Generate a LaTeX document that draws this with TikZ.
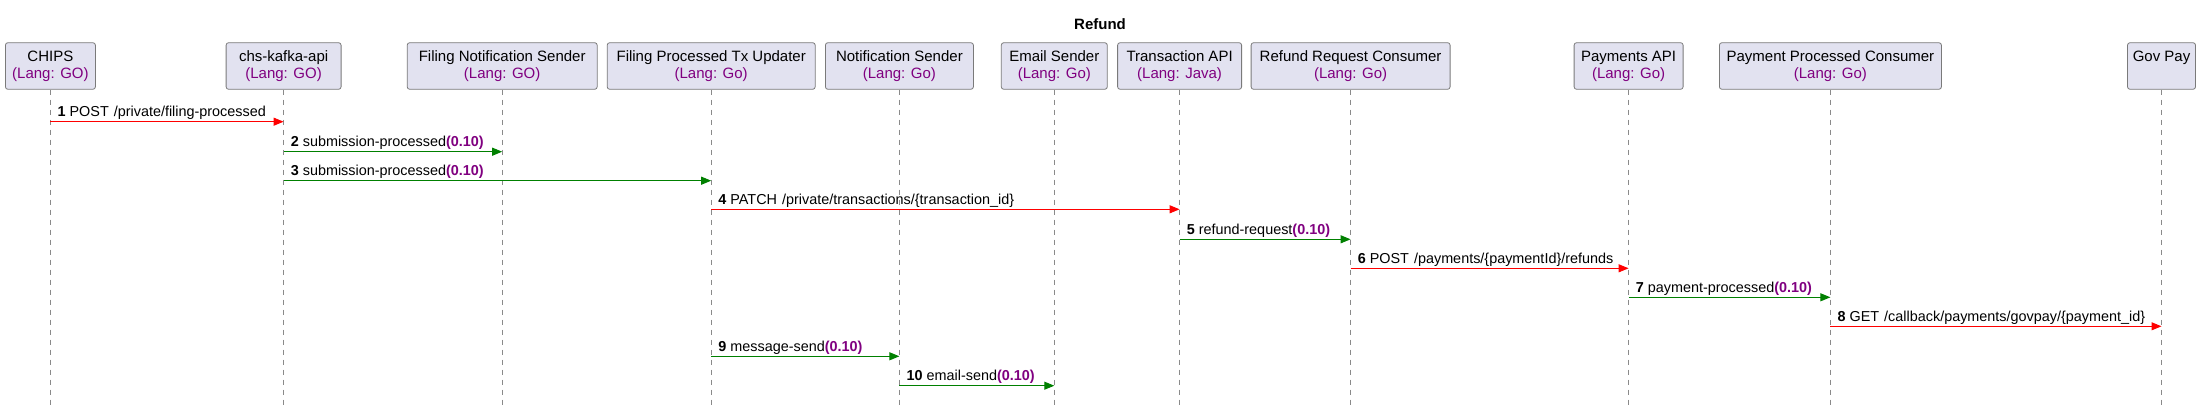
\documentclass[tikz,border=0pt]{standalone}
\usepackage{fontspec}
\setmainfont{Liberation Sans}
\usetikzlibrary{arrows.meta}
\definecolor{boxfill}{HTML}{E2E2F0}
\definecolor{boxline}{HTML}{7A7A7A}
\definecolor{langcol}{HTML}{800080}
\definecolor{msgred}{HTML}{FF0000}
\definecolor{msggreen}{HTML}{008000}
\definecolor{lifegray}{HTML}{8A8A8A}
\newcommand{\langof}[1]{\textcolor{langcol}{(Lang: #1)}}
\newcommand{\ver}{\textcolor{langcol}{\bfseries(0.10)}}
\begin{document}
\begin{tikzpicture}[x=1pt,y=-1pt,
  part/.style={draw=boxline, line width=0.8pt, fill=boxfill, rounded corners=2.5pt,
    minimum height=46.6pt, inner sep=0pt, align=center,
    font=\fontsize{15}{17}\selectfont},
  lifeline/.style={draw=lifegray, line width=0.8pt, dash pattern=on 5pt off 5pt},
  httpmsg/.style={draw=msgred, line width=1pt, -{Triangle[length=10pt,width=8pt]}},
  kafkamsg/.style={draw=msggreen, line width=1pt, -{Triangle[length=10pt,width=8pt]}},
  lbl/.style={anchor=base west, inner sep=0pt, xshift=7pt, font=\fontsize{14.4}{17}\selectfont}]
\useasboundingbox (0,0) rectangle (2200,409);
\node[font=\bfseries\fontsize{15}{17}\selectfont] (title) at (1100,24) {Refund};

\node[part, minimum width=90pt]  (chips) at (50.4,66)   {CHIPS\\\langof{GO}};
\node[part, minimum width=115pt] (kafka) at (283.6,66)  {chs-kafka-api\\\langof{GO}};
\node[part, minimum width=190pt] (fns)   at (502.2,66)  {Filing Notification Sender\\\langof{GO}};
\node[part, minimum width=208pt] (fptu)  at (711.2,66)  {Filing Processed Tx Updater\\\langof{Go}};
\node[part, minimum width=148pt] (ns)    at (899.4,66)  {Notification Sender\\\langof{Go}};
\node[part, minimum width=106pt] (es)    at (1054.3,66) {Email Sender\\\langof{Go}};
\node[part, minimum width=124pt] (ta)    at (1179.6,66) {Transaction API\\\langof{Java}};
\node[part, minimum width=199pt] (rrc)   at (1350.6,66) {Refund Request Consumer\\\langof{Go}};
\node[part, minimum width=109pt] (pa)    at (1628.6,66) {Payments API\\\langof{Go}};
\node[part, minimum width=222pt] (ppc)   at (1830.4,66) {Payment Processed Consumer\\\langof{Go}};
\node[part, minimum width=68pt]  (gov)   at (2161.5,66) {Gov Pay\\\vphantom{(Lg}};

\foreach \p in {chips,kafka,fns,fptu,ns,es,ta,rrc,pa,ppc,gov}
  \draw[lifeline] (\p.south) -- (\p.south |- 0,409);

% 1
\draw[httpmsg] (chips.center |- 0,121.7) -- (kafka.center |- 0,121.7);
\path (chips.center |- 0,116.7) node[lbl] (l1) {\textbf{1} POST\hspace{1pt} /private/filing-processed};
% 2
\draw[kafkamsg] (kafka.center |- 0,151.7) -- (fns.center |- 0,151.7);
\path (kafka.center |- 0,146.7) node[lbl] (l2) {\textbf{2} submission-processed\ver};
% 3
\draw[kafkamsg] (kafka.center |- 0,180.7) -- (fptu.center |- 0,180.7);
\path (kafka.center |- 0,175.7) node[lbl] (l3) {\textbf{3} submission-processed\ver};
% 4
\draw[httpmsg] (fptu.center |- 0,209.3) -- (ta.center |- 0,209.3);
\path (fptu.center |- 0,204.3) node[lbl] (l4) {\textbf{4} PATCH\hspace{1pt} /private/transactions/\{transaction\_id\}};
% 5
\draw[kafkamsg] (ta.center |- 0,239.3) -- (rrc.center |- 0,239.3);
\path (ta.center |- 0,234.3) node[lbl] (l5) {\textbf{5} refund-request\ver};
% 6
\draw[httpmsg] (rrc.center |- 0,268.3) -- (pa.center |- 0,268.3);
\path (rrc.center |- 0,263.3) node[lbl] (l6) {\textbf{6} POST\hspace{1pt} /payments/\{paymentId\}/refunds};
% 7
\draw[kafkamsg] (pa.center |- 0,297.3) -- (ppc.center |- 0,297.3);
\path (pa.center |- 0,292.3) node[lbl] (l7) {\textbf{7} payment-processed\ver};
% 8
\draw[httpmsg] (ppc.center |- 0,326.3) -- (gov.center |- 0,326.3);
\path (ppc.center |- 0,321.3) node[lbl] (l8) {\textbf{8} GET\hspace{1pt} /callback/payments/govpay/\{payment\_id\}};
% 9
\draw[kafkamsg] (fptu.center |- 0,356.3) -- (ns.center |- 0,356.3);
\path (fptu.center |- 0,351.3) node[lbl] (l9) {\textbf{9} message-send\ver};
% 10
\draw[kafkamsg] (ns.center |- 0,385.7) -- (es.center |- 0,385.7);
\path (ns.center |- 0,380.7) node[lbl] (l10) {\textbf{10} email-send\ver};
\end{tikzpicture}
\end{document}
